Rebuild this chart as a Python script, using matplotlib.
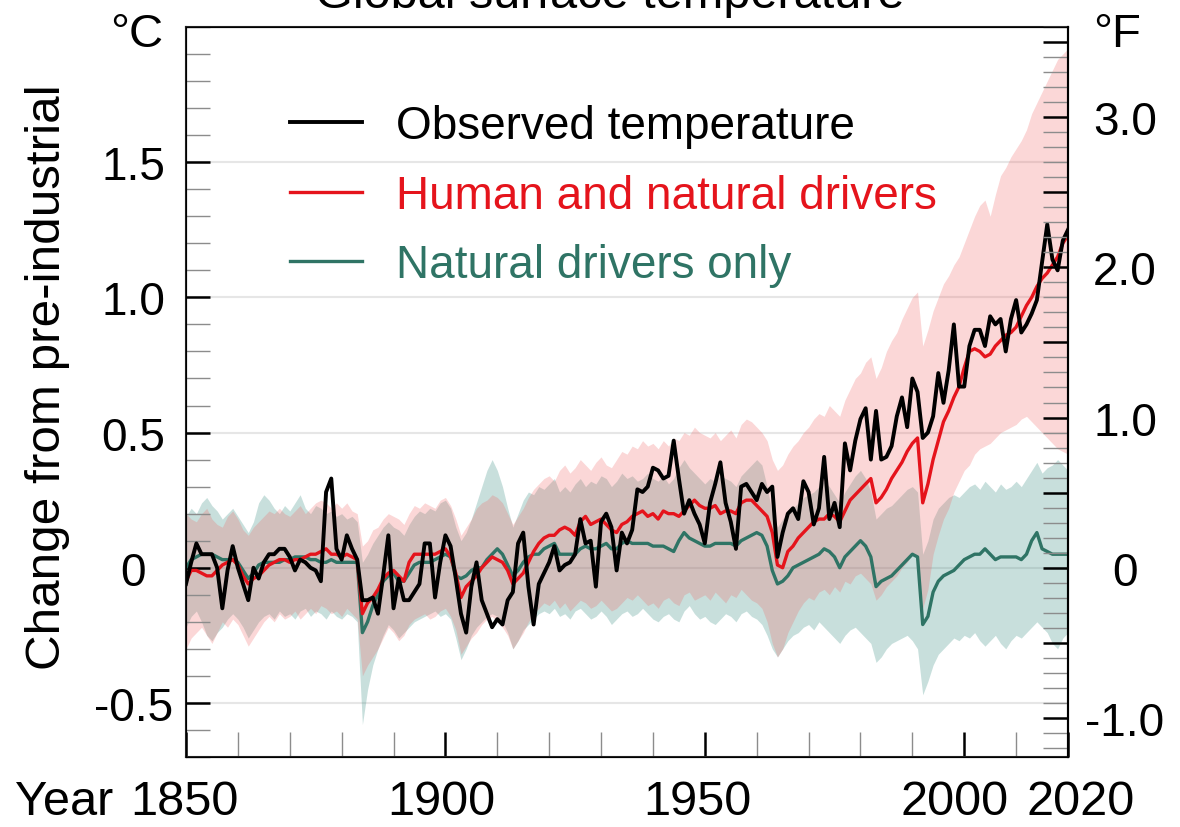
import matplotlib
matplotlib.use("Agg")
import matplotlib.pyplot as plt
from matplotlib.ticker import FixedLocator, MultipleLocator, FuncFormatter
from matplotlib.transforms import ScaledTranslation

plt.rcParams['font.family'] = ['Liberation Sans', 'DejaVu Sans']

years = list(range(1850, 2021))

# observed annual temperature change (degC vs pre-industrial)
observed = [
    -0.06, 0.02, 0.09, 0.05, 0.05, 0.05, 0.00, -0.15, -0.01, 0.08,
    0.00, -0.06, -0.12, 0.00, -0.04, 0.02, 0.05, 0.05, 0.07, 0.07,
    0.04, -0.01, 0.03, 0.02, 0.00, -0.01, -0.05, 0.28, 0.33, 0.07,
    0.03, 0.12, 0.07, 0.03, -0.12, -0.12, -0.11, -0.17, -0.03, 0.12,
    -0.15, -0.04, -0.12, -0.12, -0.09, -0.06, 0.09, 0.09, -0.11, 0.02,
    0.12, 0.08, -0.04, -0.17, -0.24, -0.07, 0.02, -0.12, -0.17, -0.22,
    -0.19, -0.21, -0.12, -0.09, 0.09, 0.13, -0.07, -0.21, -0.06, -0.02,
    0.02, 0.08, -0.01, 0.01, 0.02, 0.05, 0.18, 0.09, 0.10, -0.07,
    0.17, 0.20, 0.15, -0.01, 0.13, 0.09, 0.14, 0.29, 0.28, 0.30,
    0.37, 0.36, 0.33, 0.34, 0.47, 0.33, 0.20, 0.25, 0.20, 0.16,
    0.09, 0.24, 0.31, 0.39, 0.24, 0.17, 0.07, 0.30, 0.31, 0.28,
    0.25, 0.31, 0.28, 0.30, 0.04, 0.13, 0.20, 0.22, 0.18, 0.32,
    0.28, 0.16, 0.22, 0.41, 0.18, 0.24, 0.15, 0.46, 0.36, 0.47,
    0.55, 0.59, 0.40, 0.58, 0.40, 0.41, 0.45, 0.56, 0.63, 0.52,
    0.70, 0.65, 0.48, 0.50, 0.56, 0.72, 0.61, 0.73, 0.90, 0.67,
    0.67, 0.82, 0.88, 0.88, 0.82, 0.93, 0.90, 0.92, 0.80, 0.92,
    0.99, 0.87, 0.90, 0.94, 0.99, 1.13, 1.27, 1.14, 1.10, 1.21,
    1.25,
]

# simulated: human and natural drivers (mean, upper, lower)
human = [
    -0.05, -0.01, -0.01, -0.02, -0.03, -0.03, -0.01, 0.01, 0.02, 0.03,
    0.01, -0.03, -0.06, -0.04, -0.03, -0.01, 0.01, 0.02, 0.03, 0.03,
    0.02, 0.03, 0.03, 0.04, 0.05, 0.05, 0.06, 0.07, 0.05, 0.05,
    0.04, 0.05, 0.04, 0.03, -0.17, -0.13, -0.11, -0.08, -0.04, -0.02,
    -0.01, -0.03, -0.05, 0.02, 0.05, 0.05, 0.05, 0.05, 0.05, 0.06,
    0.07, 0.04, -0.02, -0.11, -0.07, -0.05, -0.03, 0.00, 0.02, 0.04,
    0.03, 0.02, -0.01, -0.06, -0.04, -0.02, 0.02, 0.06, 0.09, 0.11,
    0.12, 0.12, 0.14, 0.15, 0.14, 0.12, 0.17, 0.19, 0.16, 0.17,
    0.18, 0.16, 0.14, 0.13, 0.16, 0.17, 0.19, 0.20, 0.21, 0.19,
    0.20, 0.18, 0.21, 0.20, 0.20, 0.19, 0.21, 0.23, 0.25, 0.23,
    0.22, 0.22, 0.23, 0.20, 0.21, 0.21, 0.20, 0.24, 0.25, 0.25,
    0.23, 0.21, 0.19, 0.13, 0.01, 0.00, 0.06, 0.08, 0.11, 0.13,
    0.15, 0.17, 0.18, 0.18, 0.20, 0.19, 0.17, 0.21, 0.25, 0.27,
    0.29, 0.31, 0.33, 0.24, 0.26, 0.29, 0.33, 0.36, 0.39, 0.43,
    0.46, 0.48, 0.24, 0.31, 0.40, 0.47, 0.54, 0.58, 0.63, 0.67,
    0.74, 0.80, 0.81, 0.80, 0.78, 0.79, 0.82, 0.84, 0.86, 0.87,
    0.89, 0.93, 0.97, 1.00, 1.04, 1.07, 1.09, 1.12, 1.15, 1.20,
    1.23,
]
human_hi = [
    0.20, 0.18, 0.17, 0.20, 0.22, 0.18, 0.16, 0.15, 0.19, 0.21,
    0.18, 0.14, 0.12, 0.15, 0.17, 0.19, 0.21, 0.20, 0.22, 0.20,
    0.19, 0.21, 0.23, 0.20, 0.22, 0.24, 0.25, 0.24, 0.22, 0.24,
    0.22, 0.24, 0.21, 0.20, 0.08, 0.10, 0.14, 0.15, 0.18, 0.20,
    0.19, 0.18, 0.16, 0.20, 0.23, 0.22, 0.24, 0.23, 0.22, 0.25,
    0.26, 0.23, 0.18, 0.12, 0.15, 0.18, 0.22, 0.24, 0.25, 0.27,
    0.26, 0.24, 0.20, 0.16, 0.19, 0.22, 0.26, 0.29, 0.31, 0.33,
    0.34, 0.32, 0.36, 0.38, 0.35, 0.37, 0.40, 0.38, 0.36, 0.39,
    0.41, 0.38, 0.37, 0.40, 0.43, 0.42, 0.45, 0.44, 0.47, 0.45,
    0.46, 0.44, 0.47, 0.45, 0.48, 0.47, 0.50, 0.49, 0.52, 0.50,
    0.49, 0.48, 0.50, 0.47, 0.49, 0.51, 0.48, 0.53, 0.55, 0.54,
    0.52, 0.50, 0.47, 0.40, 0.36, 0.38, 0.42, 0.45, 0.47, 0.50,
    0.52, 0.55, 0.57, 0.56, 0.60, 0.58, 0.56, 0.62, 0.66, 0.70,
    0.72, 0.76, 0.78, 0.70, 0.74, 0.80, 0.84, 0.87, 0.92, 0.96,
    1.00, 1.02, 0.82, 0.88, 0.95, 1.00, 1.05, 1.08, 1.12, 1.15,
    1.20, 1.25, 1.30, 1.34, 1.36, 1.30, 1.38, 1.45, 1.48, 1.52,
    1.55, 1.58, 1.62, 1.68, 1.72, 1.76, 1.80, 1.84, 1.88, 1.90,
    1.92,
]
human_lo = [
    -0.30, -0.26, -0.24, -0.22, -0.25, -0.28, -0.24, -0.20, -0.22, -0.19,
    -0.21, -0.25, -0.29, -0.26, -0.23, -0.20, -0.18, -0.20, -0.17, -0.19,
    -0.18, -0.16, -0.19, -0.17, -0.15, -0.17, -0.14, -0.15, -0.17, -0.16,
    -0.18, -0.15, -0.17, -0.19, -0.40, -0.36, -0.33, -0.30, -0.26, -0.22,
    -0.24, -0.27, -0.25, -0.21, -0.19, -0.18, -0.17, -0.19, -0.18, -0.16,
    -0.15, -0.18, -0.23, -0.32, -0.29, -0.26, -0.24, -0.21, -0.19, -0.18,
    -0.20, -0.22, -0.25, -0.30, -0.27, -0.24, -0.20, -0.17, -0.15, -0.13,
    -0.14, -0.12, -0.15, -0.13, -0.16, -0.14, -0.12, -0.13, -0.15, -0.14,
    -0.12, -0.14, -0.16, -0.15, -0.13, -0.11, -0.12, -0.10, -0.12, -0.14,
    -0.13, -0.15, -0.12, -0.11, -0.13, -0.14, -0.10, -0.09, -0.12, -0.11,
    -0.10, -0.12, -0.09, -0.11, -0.13, -0.10, -0.11, -0.08, -0.10, -0.12,
    -0.13, -0.15, -0.20, -0.28, -0.33, -0.30, -0.24, -0.20, -0.16, -0.13,
    -0.11, -0.12, -0.09, -0.08, -0.10, -0.07, -0.09, -0.05, -0.06, -0.03,
    -0.02, -0.04, -0.06, -0.12, -0.10, -0.07, -0.05, -0.03, 0.00, 0.02,
    0.05, 0.04, -0.15, -0.08, 0.05, 0.12, 0.18, 0.22, 0.28, 0.32,
    0.36, 0.38, 0.42, 0.44, 0.45, 0.46, 0.48, 0.50, 0.51, 0.52,
    0.53, 0.55, 0.56, 0.54, 0.52, 0.50, 0.48, 0.46, 0.44, 0.43,
    0.42,
]

# simulated: natural drivers only (mean, upper, lower)
natural = [
    0.00, 0.03, 0.04, 0.05, 0.05, 0.05, 0.04, 0.03, 0.03, 0.03,
    0.02, -0.01, -0.04, -0.02, 0.01, 0.02, 0.02, 0.02, 0.02, 0.03,
    0.03, 0.04, 0.04, 0.04, 0.03, 0.03, 0.02, 0.02, 0.03, 0.02,
    0.02, 0.02, 0.02, 0.02, -0.24, -0.20, -0.14, -0.10, -0.05, -0.03,
    -0.02, -0.05, -0.05, -0.02, 0.01, 0.02, 0.02, 0.02, 0.03, 0.04,
    0.05, 0.04, -0.03, -0.04, -0.03, -0.01, 0.00, 0.00, 0.03, 0.05,
    0.07, 0.05, 0.01, -0.03, -0.01, 0.02, 0.04, 0.05, 0.05, 0.07,
    0.08, 0.09, 0.05, 0.05, 0.05, 0.05, 0.07, 0.08, 0.07, 0.07,
    0.08, 0.09, 0.07, 0.07, 0.09, 0.10, 0.09, 0.09, 0.09, 0.09,
    0.08, 0.08, 0.08, 0.07, 0.06, 0.10, 0.13, 0.11, 0.10, 0.09,
    0.08, 0.08, 0.09, 0.09, 0.09, 0.09, 0.08, 0.10, 0.11, 0.12,
    0.13, 0.12, 0.08, -0.01, -0.06, -0.05, -0.03, 0.00, 0.01, 0.02,
    0.03, 0.04, 0.05, 0.07, 0.06, 0.04, 0.00, 0.04, 0.06, 0.08,
    0.10, 0.08, 0.04, -0.07, -0.05, -0.04, -0.03, -0.01, 0.01, 0.03,
    0.05, 0.04, -0.21, -0.18, -0.09, -0.05, -0.03, -0.02, -0.01, 0.01,
    0.03, 0.04, 0.05, 0.05, 0.07, 0.05, 0.03, 0.04, 0.04, 0.04,
    0.04, 0.03, 0.05, 0.10, 0.13, 0.07, 0.06, 0.05, 0.05, 0.05,
    0.05,
]
natural_hi = [
    0.19, 0.22, 0.20, 0.24, 0.26, 0.23, 0.21, 0.18, 0.20, 0.22,
    0.19, 0.16, 0.13, 0.17, 0.24, 0.27, 0.25, 0.22, 0.20, 0.23,
    0.21, 0.24, 0.27, 0.22, 0.20, 0.23, 0.22, 0.20, 0.21, 0.19,
    0.20, 0.18, 0.19, 0.17, 0.02, 0.05, 0.09, 0.12, 0.15, 0.17,
    0.15, 0.14, 0.12, 0.16, 0.19, 0.21, 0.20, 0.22, 0.21, 0.24,
    0.25, 0.22, 0.15, 0.10, 0.13, 0.18, 0.24, 0.30, 0.36, 0.40,
    0.36, 0.30, 0.22, 0.15, 0.20, 0.25, 0.28, 0.27, 0.30, 0.29,
    0.31, 0.33, 0.28, 0.30, 0.28, 0.31, 0.33, 0.30, 0.32, 0.31,
    0.34, 0.33, 0.30, 0.32, 0.35, 0.33, 0.34, 0.32, 0.33, 0.35,
    0.33, 0.32, 0.34, 0.31, 0.33, 0.37, 0.40, 0.37, 0.35, 0.33,
    0.31, 0.33, 0.32, 0.34, 0.33, 0.32, 0.30, 0.34, 0.36, 0.38,
    0.40, 0.38, 0.30, 0.20, 0.15, 0.18, 0.20, 0.22, 0.24, 0.26,
    0.27, 0.28, 0.30, 0.32, 0.30, 0.27, 0.24, 0.28, 0.31, 0.34,
    0.36, 0.33, 0.28, 0.18, 0.20, 0.22, 0.23, 0.25, 0.27, 0.29,
    0.30, 0.28, 0.05, 0.10, 0.18, 0.22, 0.24, 0.26, 0.27, 0.26,
    0.28, 0.30, 0.31, 0.29, 0.32, 0.30, 0.28, 0.31, 0.29, 0.30,
    0.32, 0.30, 0.33, 0.36, 0.39, 0.35, 0.37, 0.38, 0.40, 0.38,
    0.36,
]
natural_lo = [
    -0.22, -0.18, -0.16, -0.20, -0.25, -0.27, -0.24, -0.22, -0.19, -0.17,
    -0.19, -0.22, -0.26, -0.23, -0.20, -0.18, -0.17, -0.19, -0.16, -0.18,
    -0.17, -0.19, -0.16, -0.15, -0.18, -0.16, -0.17, -0.19, -0.16, -0.18,
    -0.19, -0.17, -0.18, -0.20, -0.58, -0.45, -0.36, -0.30, -0.25, -0.21,
    -0.23, -0.26, -0.24, -0.22, -0.20, -0.19, -0.18, -0.17, -0.16, -0.18,
    -0.17, -0.19, -0.26, -0.34, -0.30, -0.25, -0.22, -0.20, -0.18, -0.17,
    -0.18, -0.20, -0.24, -0.30, -0.27, -0.23, -0.21, -0.19, -0.17, -0.16,
    -0.17, -0.15, -0.18, -0.17, -0.19, -0.16, -0.15, -0.17, -0.19, -0.18,
    -0.16, -0.18, -0.21, -0.19, -0.17, -0.16, -0.18, -0.17, -0.15, -0.17,
    -0.19, -0.20, -0.18, -0.17, -0.19, -0.20, -0.16, -0.14, -0.17, -0.19,
    -0.18, -0.20, -0.21, -0.19, -0.17, -0.18, -0.20, -0.17, -0.16, -0.18,
    -0.19, -0.21, -0.25, -0.30, -0.33, -0.30, -0.27, -0.25, -0.24, -0.22,
    -0.21, -0.23, -0.20, -0.22, -0.24, -0.26, -0.28, -0.25, -0.23, -0.22,
    -0.24, -0.26, -0.28, -0.35, -0.33, -0.30, -0.28, -0.27, -0.26, -0.25,
    -0.27, -0.30, -0.47, -0.42, -0.36, -0.32, -0.30, -0.28, -0.26, -0.27,
    -0.25, -0.26, -0.24, -0.27, -0.29, -0.27, -0.25, -0.28, -0.30, -0.27,
    -0.25, -0.26, -0.24, -0.22, -0.20, -0.22, -0.24, -0.28, -0.30, -0.26,
    -0.24,
]

c_ticks = [-0.5, 0, 0.5, 1.0, 1.5]
f_ticks = [-1.0, -0.5, 0, 0.5, 1.0, 1.5, 2.0, 2.5, 3.0, 3.5]
year_ticks = [1850, 1900, 1950, 2000, 2020]
year_label_shift = [-2, -4, -7, -10, 13]   # pixels, keeps 2000 and 2020 apart

FS = 33
FS_X = 35
RED = '#e5141c'
TEAL = '#2f7465'

fig = plt.figure(figsize=(11.8, 8.28), dpi=100)
ax = fig.add_axes([186 / 1180, 1 - 758 / 828, 882 / 1180, 730 / 828])

# uncertainty bands
ax.fill_between(years, natural_lo, natural_hi, color='#3a8f84', alpha=0.28, lw=0)
ax.fill_between(years, human_lo, human_hi, color='#f06060', alpha=0.25, lw=0)

ax.plot(years, natural, color=TEAL, lw=2.4, label='Natural drivers only')
ax.plot(years, human, color=RED, lw=2.4, label='Human and natural drivers')
ax.plot(years, observed, color='black', lw=2.8, label='Observed temperature')

ax.set_xlim(1850, 2020)
ax.set_ylim(-0.70, 2.0)

# horizontal reference lines
for v in c_ticks:
    ax.axhline(v, color='#e6e6e6', lw=1.5, zorder=0)

# left axis (degC)
ax.yaxis.set_major_locator(FixedLocator(c_ticks))
ax.yaxis.set_minor_locator(MultipleLocator(0.1))
ax.yaxis.set_major_formatter(FuncFormatter(lambda v, p: '0' if v == 0 else '%.1f' % v))
ax.tick_params(axis='y', which='major', direction='in', length=17, width=1.8,
               color='black', labelsize=FS, pad=38)
ax.tick_params(axis='y', which='minor', direction='in', length=17, width=1.0,
               color='#8c8c8c')
for lab in ax.get_yticklabels():
    lab.set_horizontalalignment('center')

# x axis
ax.xaxis.set_major_locator(FixedLocator(year_ticks))
ax.xaxis.set_minor_locator(MultipleLocator(10))
ax.tick_params(axis='x', which='major', direction='in', length=18, width=1.8,
               color='black', labelsize=FS_X, pad=16)
ax.tick_params(axis='x', which='minor', direction='in', length=18, width=1.0,
               color='#8c8c8c')
for lab, dx in zip(ax.get_xticklabels(), year_label_shift):
    lab.set_transform(lab.get_transform() + ScaledTranslation(dx / 100, 0, fig.dpi_scale_trans))

for s in ax.spines.values():
    s.set_linewidth(1.5)
    s.set_color('#222222')

# right axis (degF)
ax2 = ax.twinx()
ax2.set_ylim(-0.70 * 1.8, 2.0 * 1.8)
ax2.yaxis.set_major_locator(FixedLocator(f_ticks))
ax2.yaxis.set_minor_locator(MultipleLocator(0.1))
ax2.yaxis.set_major_formatter(FuncFormatter(
    lambda v, p: ('0' if v == 0 else '%.1f' % v) if abs(v - round(v)) < 1e-6 else ''))
ax2.tick_params(axis='y', which='major', direction='in', length=18, width=1.8,
                color='black', labelsize=FS, pad=41)
ax2.tick_params(axis='y', which='minor', direction='in', length=18, width=1.0,
                color='#8c8c8c')
for lab in ax2.get_yticklabels():
    lab.set_horizontalalignment('center')
ax2.spines['right'].set_linewidth(1.5)

# legend
h, l = ax.get_legend_handles_labels()
leg = ax.legend(h[::-1], l[::-1], loc='upper left', bbox_to_anchor=(0.118, 0.894),
                frameon=False, fontsize=FS, handlelength=1.57, handletextpad=0.74,
                labelspacing=0.55, borderpad=0, borderaxespad=0, labelcolor='linecolor')

# texts around the axes
fig.text(0.517, 1 - 8 / 828, 'Global surface temperature', fontsize=35, ha='center', va='baseline')
fig.text(163 / 1180, 1 - 47 / 828, '°C', fontsize=34, ha='right', va='baseline')
fig.text(1093 / 1180, 1 - 47 / 828, '°F', fontsize=34, ha='left', va='baseline')
fig.text(15 / 1180, 1 - 815 / 828, 'Year', fontsize=FS_X, ha='left', va='baseline')
fig.text(48 / 1180, 1 - 377 / 828, 'Change from pre-industrial', fontsize=35.6,
         rotation=90, ha='center', va='center')

plt.savefig('out.png', dpi=100)
